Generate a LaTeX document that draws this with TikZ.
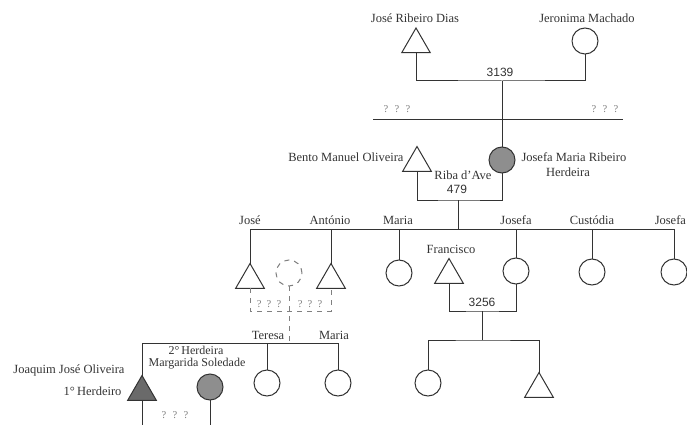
\documentclass[tikz,border=0pt]{standalone}
\usepackage{fontspec}
\setmainfont{Liberation Serif}
\newfontfamily\numfont{Liberation Sans}
\usetikzlibrary{shapes.geometric}
\definecolor{ink}{HTML}{333333}
\definecolor{qmark}{HTML}{808080}
\definecolor{heir}{HTML}{8E8E8E}
\definecolor{heirdark}{HTML}{6A6A6A}

\begin{document}
\begin{tikzpicture}[x=1pt,y=-1pt,
  line width=1pt,
  male/.style={draw=ink, regular polygon, regular polygon sides=3,
    minimum size=33pt, inner sep=0pt, outer sep=0pt},
  female/.style={draw=ink, circle, minimum size=26pt, inner sep=0pt, outer sep=0pt},
  unknown/.style={draw=qmark, circle, dash pattern=on 5pt off 5pt,
    minimum size=26pt, inner sep=0pt, outer sep=0pt},
  lbl/.style={text=ink, font=\fontsize{12.5}{14}\selectfont, inner sep=0pt},
  slbl/.style={text=ink, font=\fontsize{12}{13}\selectfont, inner sep=0pt},
  num/.style={text=ink, font=\numfont\fontsize{12}{14}\selectfont, inner sep=0pt},
  qm/.style={text=qmark, font=\fontsize{10.5}{12}\selectfont, inner sep=0pt},
  link/.style={draw=ink},
  dlink/.style={draw=qmark, dash pattern=on 5pt off 5pt},
]
\useasboundingbox (0,0) rectangle (687,425);
\clip (0,0) rectangle (687,425);

% ---- first generation
\node[male]   (jrd) at (416,44.5) {};
\node[female] (jm)  at (585,41) {};
\node[lbl] (ljrd) at (415,18) {José Ribeiro Dias};
\node[lbl] (ljm)  at (587,18) {Jeronima Machado};
\coordinate (u1) at (502,81);
\draw[link] (jrd.south) |- (u1) -| (jm.south);
\node[num] (n3139) at (500,72) {3139};

\coordinate (hl) at (373,119);
\coordinate (hr) at (623,119);
\draw[link] (hl) -- (hr);
\node[qm] (q1) at (397,109) {?\hspace{0.6em}?\hspace{0.6em}?};
\node[qm] (q2) at (605,109) {?\hspace{0.6em}?\hspace{0.6em}?};

% ---- second generation
\node[male] (bento) at (417,163) {};
\node[female, fill=heir] (josefaM) at (502,160) {};
\draw[link] (u1) -- (josefaM.north);
\node[lbl, anchor=east] (lbento) at (404,157) {Bento Manuel Oliveira};
\node[lbl, anchor=west] (ljosefaM) at (521,157) {Josefa Maria Ribeiro};
\node[lbl] (lherd) at (568,172) {Herdeira};
\node[lbl] (lriba) at (463,175) {Riba d'Ave};
\node[num] (n479) at (457,189) {479};
\coordinate (u2) at (458,200);
\draw[link] (bento.south) |- (u2) -| (josefaM.south);

% ---- third generation
\coordinate (s1) at (458,229);
\coordinate (sl) at (250,229);
\coordinate (sr) at (674,229);
\draw[link] (u2) -- (s1);
\draw[link] (sl) -- (sr);

\node[male]    (jose)     at (250,280) {};
\node[unknown] (unk)      at (289,273) {};
\node[male]    (antonio)  at (331,280) {};
\node[female]  (maria)    at (399,273) {};
\node[male]    (francisco) at (449,275) {};
\node[female]  (josefa)   at (516,271) {};
\node[female]  (custodia) at (592,272) {};
\node[female]  (josefab)  at (674,272) {};

\node[lbl] (ljose)     at (250,220) {José};
\node[lbl] (lantonio)  at (330,220) {António};
\node[lbl] (lmaria)    at (398,220) {Maria};
\node[lbl] (ljosefa)   at (516,220) {Josefa};
\node[lbl] (lcustodia) at (592,220) {Custódia};
\node[lbl, anchor=east] (ljosefab) at (686.5,220) {Josefa};
\node[lbl] (lfrancisco) at (451,249) {Francisco};

\draw[link] (sl) -- (jose.north);
\draw[link] (antonio.north |- s1) -- (antonio.north);
\draw[link] (maria.north |- s1) -- (maria.north);
\draw[link] (josefa.north |- s1) -- (josefa.north);
\draw[link] (custodia.north |- s1) -- (custodia.north);
\draw[link] (sr) -- (josefab.north);

% unknown spouses of José and António
\coordinate (b1) at (250,311);
\coordinate (b2) at (331,311);
\draw[dlink] (jose.south) -- (b1) -- (b2) -- (antonio.south);
\node[qm] (q3) at (269,304) {?\hspace{0.5em}?\hspace{0.5em}?};
\node[qm] (q4) at (310,304) {?\hspace{0.5em}?\hspace{0.5em}?};

% Francisco and Josefa
\coordinate (u3) at (482,311);
\coordinate (s3) at (482,340);
\draw[link] (francisco.south) |- (u3) -| (josefa.south);
\draw[link] (u3) -- (s3);
\node[num] (n3256) at (482,302) {3256};
\node[female] (fc1) at (428,383) {};
\node[male]   (fc2) at (539,389) {};
\draw[link] (fc1.north) |- (s3) -| (fc2.north);

% ---- fourth generation
\coordinate (s4) at (289,343);
\coordinate (tl) at (142,343);
\coordinate (tr) at (338,343);
\draw[dlink] (unk.south) -- (s4);
\draw[link] (tl) -- (tr);

\node[male, fill=heirdark] (joaquim)  at (142,392) {};
\node[female, fill=heir]   (margarida) at (210,387) {};
\node[female] (teresa) at (267,383) {};
\node[female] (maria2) at (338,383) {};
\draw[link] (tl) -- (joaquim.north);
\draw[link] (teresa.north |- tl) -- (teresa.north);
\draw[link] (tr) -- (maria2.north);

\node[lbl] (lteresa) at (268,335) {Teresa};
\node[lbl] (lmaria2) at (334,335) {Maria};
\node[slbl] (lher2)   at (196,350) {2\textdegree\,Herdeira};
\node[slbl] (lmarg)   at (197,363.5) {Margarida Soledade};
\node[lbl, anchor=east] (ljoaq) at (125,370) {Joaquim José Oliveira};
\node[lbl, anchor=east] (lher1) at (122,391) {1\textdegree\,Herdeiro};

\coordinate (d1) at (142,425);
\coordinate (d2) at (210,425);
\draw[link] (joaquim.south) -- (d1);
\draw[link] (margarida.south) -- (d2);
\node[qm] (q5) at (175,415) {?\hspace{0.6em}?\hspace{0.6em}?};
\end{tikzpicture}
\end{document}
